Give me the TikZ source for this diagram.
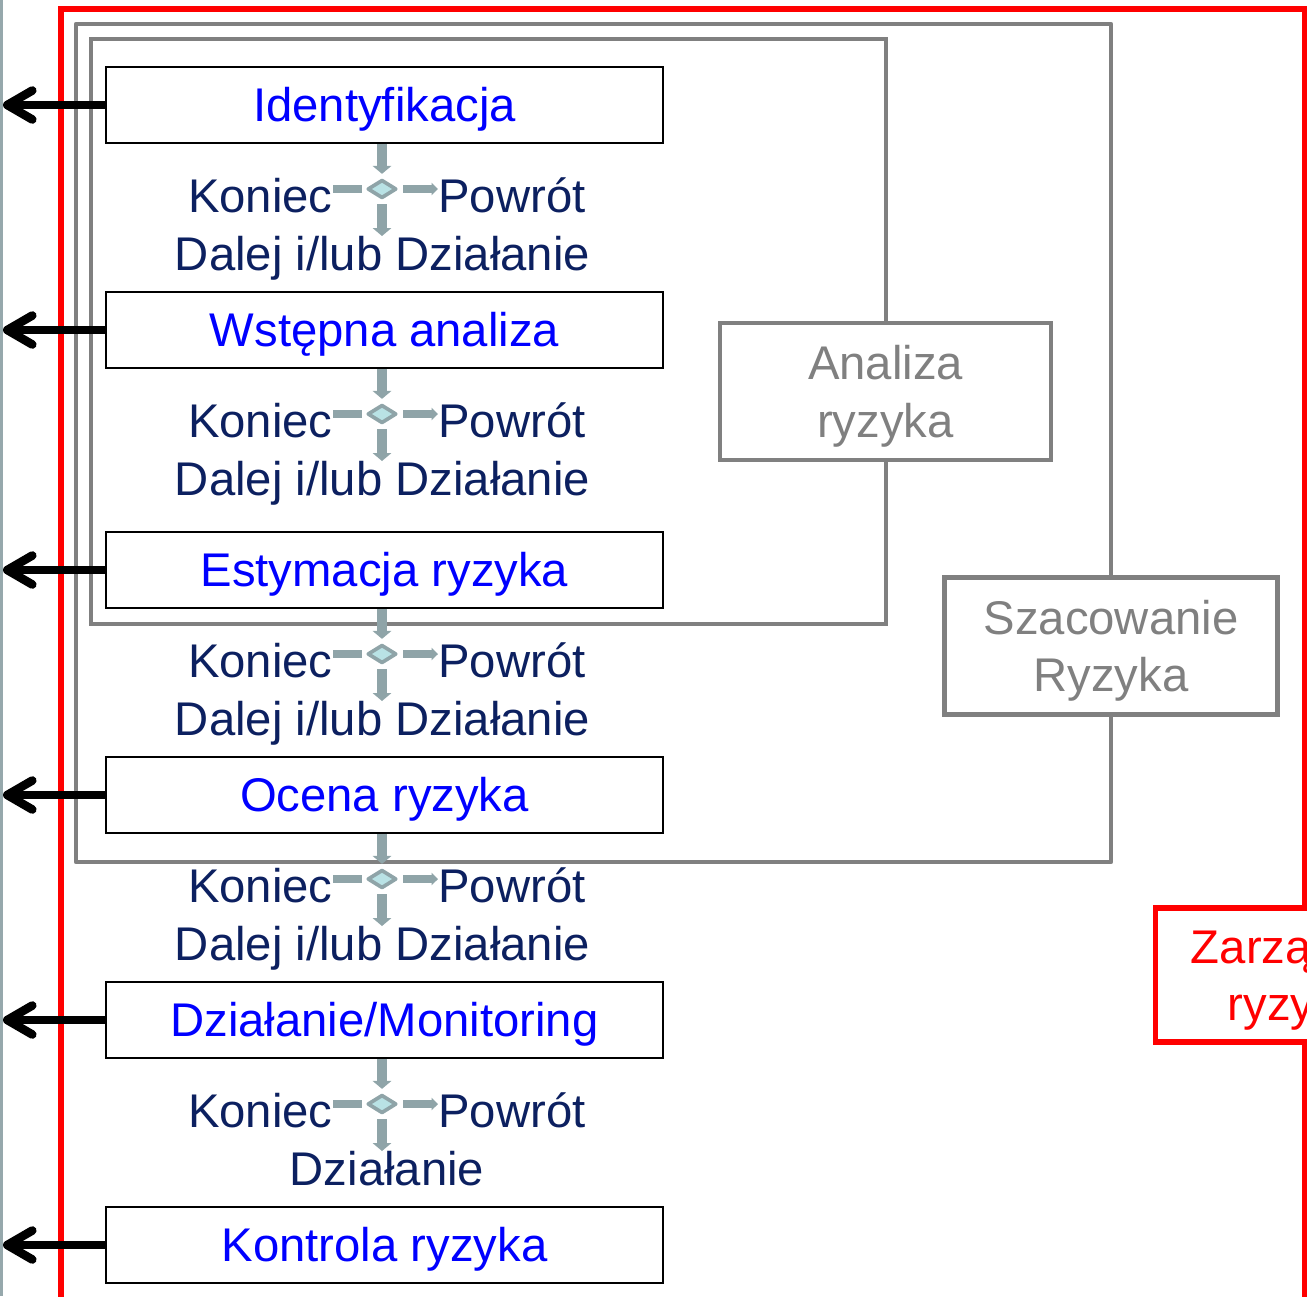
\documentclass[tikz,border=0pt]{standalone}
\usepackage{fontspec}
\setmainfont{Liberation Sans}
\usetikzlibrary{arrows.meta,shapes.geometric}
\definecolor{flowblue}{RGB}{0,0,255}
\definecolor{navytext}{RGB}{12,32,96}
\definecolor{framegray}{RGB}{128,128,128}
\definecolor{linkgray}{RGB}{143,164,168}
\definecolor{diamondfill}{RGB}{185,226,229}
\definecolor{railgray}{RGB}{150,168,172}
\newcommand{\flowfont}{\fontsize{26.9pt}{32.6pt}\selectfont}
\begin{document}
\begin{tikzpicture}[x=0.02cm,y=-0.02cm,
  every node/.style={font=\flowfont, inner sep=0pt},
  stagebox/.style={draw=black, line width=1.2pt, fill=white,
    minimum width=11.14cm, minimum height=1.52cm, text=flowblue,
    text height=19.3pt, text depth=0pt},
  infobox/.style={draw=framegray, fill=white, line width=1.9pt,
    minimum width=6.62cm, minimum height=2.74cm, text=framegray,
    align=center, text height=51.9pt, text depth=0pt},
  flowtext/.style={text=navytext, anchor=base},
  decision/.style={diamond, draw=linkgray, fill=diamondfill, line width=2.1pt,
    line join=round, minimum width=0.58cm, minimum height=0.37cm},
  outarrow/.style={draw=black, line width=4.9pt,
    -{Straight Barb[length=0.5cm, width=0.58cm, round]}},
  linkline/.style={draw=linkgray, line width=4.5pt},
  linkdown/.style={draw=linkgray, line width=5.5pt,
    -{Triangle[width=0.37cm, length=0.16cm]}},
  linkright/.style={draw=linkgray, line width=4.5pt,
    -{Triangle[width=0.25cm, length=0.13cm]}}]
\useasboundingbox (0,0) rectangle (1307,1296);
\clip (0,0) rectangle (1307,1296);

% side rail
\draw[railgray, line width=1.7pt] (1.5,0) -- (1.5,1296);

% nested frames: risk management, risk assessment, risk analysis
\draw[red, line width=2.9pt] (61,1400) -- (61,9) -- (1304.5,9) -- (1304.5,1400);
\draw[framegray, line width=2.6pt, line join=round] (76,24) rectangle (1111,862);
\draw[framegray, line width=2pt] (91,39) rectangle (886,624);

% stages
\node[stagebox] (s1) at (384.5,105) {Identyfikacja};
\node[stagebox] (s2) at (384.5,330) {Wstępna analiza};
\node[stagebox] (s3) at (384.5,570) {Estymacja ryzyka};
\node[stagebox] (s4) at (384.5,795) {Ocena ryzyka};
\node[stagebox] (s5) at (384.5,1020) {Działanie/Monitoring};
\node[stagebox] (s6) at (384.5,1245) {Kontrola ryzyka};

% outputs to the side rail
\foreach \n/\yc in {1/105,2/330,3/570,4/795,5/1020,6/1245} {
  \coordinate (e\n) at (3,\yc);
  \draw[outarrow] (s\n.west) -- (e\n);
}

% decision points between stages
\foreach \n/\yc in {1/105,2/330,3/570,4/795,5/1020} {
  \node[decision] (d\n) at (382,\yc+84) {};
  \node[flowtext, anchor=base east] (k\n) at (333,\yc+107) {Koniec};
  \node[flowtext, anchor=base west] (p\n) at (438,\yc+107) {Powrót};
  \coordinate (q\n) at (382,\yc+131);
  \draw[linkdown, shorten >=2.3pt] (d\n |- s\n.south) -- (d\n.north);
  \draw[linkline, shorten <=2.3pt] (d\n.west) -- (k\n.east |- d\n.west);
  \draw[linkright, shorten <=2.8pt] (d\n.east) -- (p\n.west |- d\n.east);
  \draw[linkdown, shorten <=2.3pt] (d\n.south) -- (q\n);
}
\node[flowtext] (g1) at (382.5,270) {Dalej i/lub Działanie};
\node[flowtext] (g2) at (382.5,495) {Dalej i/lub Działanie};
\node[flowtext] (g3) at (382.5,735) {Dalej i/lub Działanie};
\node[flowtext] (g4) at (382.5,960) {Dalej i/lub Działanie};
\node[flowtext] (g5) at (387,1185) {Działanie};

% frame labels
\node[infobox] (an) at (885.5,391.5) {Analiza\\ryzyka};
\node[infobox, line width=2.4pt, minimum width=6.66cm] (sz) at (1111,646) {Szacowanie\\Ryzyka};
\node[infobox, draw=red, text=red, line width=2.9pt, minimum height=2.68cm] (zr) at (1321,975) {Zarządzanie\\ryzykiem};
\end{tikzpicture}
\end{document}
